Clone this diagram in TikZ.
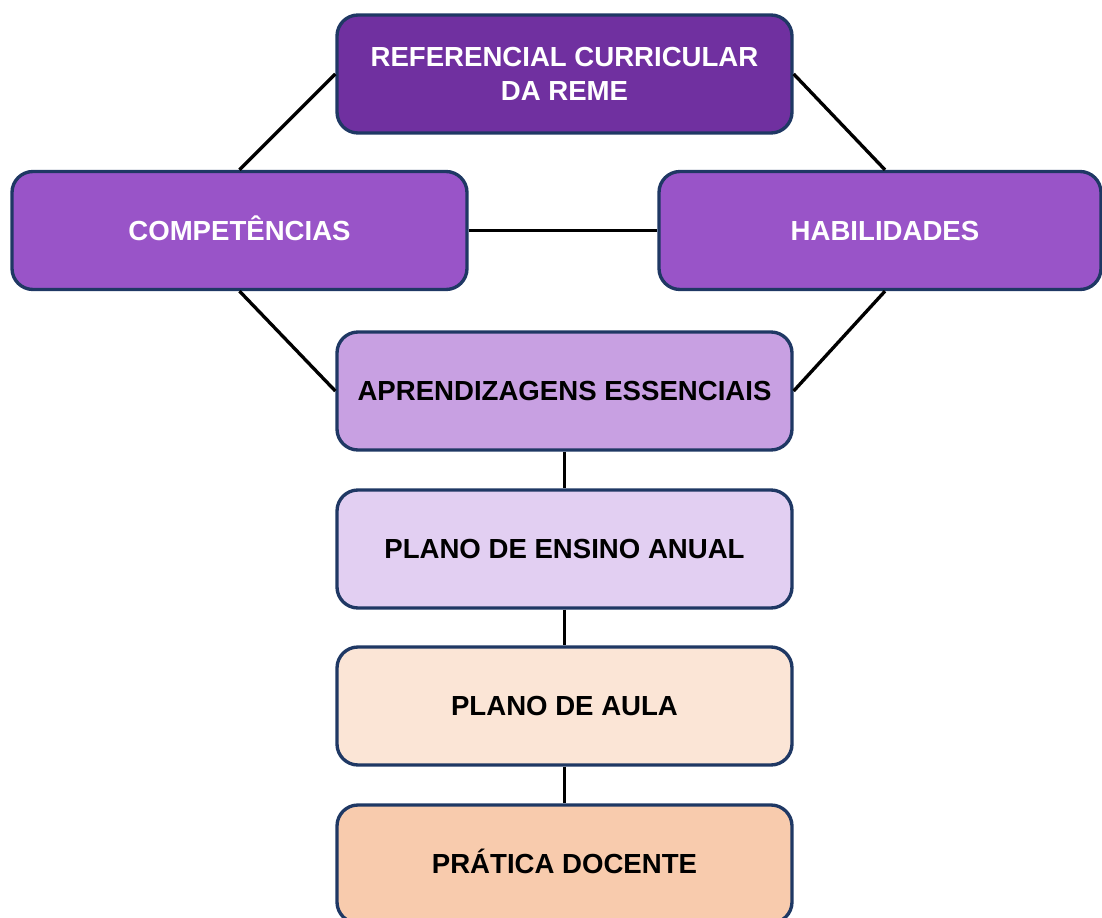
\documentclass[tikz,border=0pt]{standalone}
\usepackage{fontspec}
\setmainfont{Liberation Sans}
\definecolor{cRef}{HTML}{7030A0}
\definecolor{cMid}{HTML}{9954C8}
\definecolor{cApr}{HTML}{C8A0E2}
\definecolor{cPea}{HTML}{E2CFF2}
\definecolor{cPau}{HTML}{FBE5D6}
\definecolor{cPra}{HTML}{F8CBAD}
\definecolor{cBorder}{HTML}{1F3864}
\tikzset{
  box/.style={draw=cBorder, line width=1.9pt, rounded corners=0.42cm, inner sep=0pt,
    minimum width=9.1cm, minimum height=2.36cm, align=center,
    font=\fontsize{15.7}{19.5}\selectfont\bfseries},
  oneline/.style={text height=11.3pt, text depth=0pt},
  wtext/.style={text=white},
  btext/.style={text=black},
  link/.style={draw=black, line width=1.9pt}
}
\begin{document}
\begin{tikzpicture}
\useasboundingbox (0,0) rectangle (22.04,-18.36);
\node[box, wtext, fill=cRef] (ref) at (11.29,-1.48) {REFERENCIAL CURRICULAR\\DA REME};
\node[box, oneline, wtext, fill=cMid] (comp) at (4.79,-4.61) {COMPETÊNCIAS};
\node[box, oneline, wtext, fill=cMid, minimum width=8.84cm] (hab) at (17.6,-4.61) {\hspace*{0.2cm}HABILIDADES};
\node[box, oneline, btext, fill=cApr] (apr) at (11.29,-7.82) {APRENDIZAGENS ESSENCIAIS};
\node[box, oneline, btext, fill=cPea] (pea) at (11.29,-10.98) {PLANO DE ENSINO ANUAL};
\node[box, oneline, btext, fill=cPau] (pau) at (11.29,-14.12) {PLANO DE AULA};
\node[box, oneline, btext, fill=cPra] (pra) at (11.29,-17.28) {PRÁTICA DOCENTE};
\draw[link] (ref.west) -- (comp.north);
\draw[link] (ref.east) -- ([xshift=0.1cm]hab.north);
\draw[link] (comp.east) -- (hab.west);
\draw[link] (comp.south) -- (apr.west);
\draw[link] ([xshift=0.1cm]hab.south) -- (apr.east);
\draw[link] (apr.south) -- (pea.north);
\draw[link] (pea.south) -- (pau.north);
\draw[link] (pau.south) -- (pra.north);
\end{tikzpicture}
\end{document}
